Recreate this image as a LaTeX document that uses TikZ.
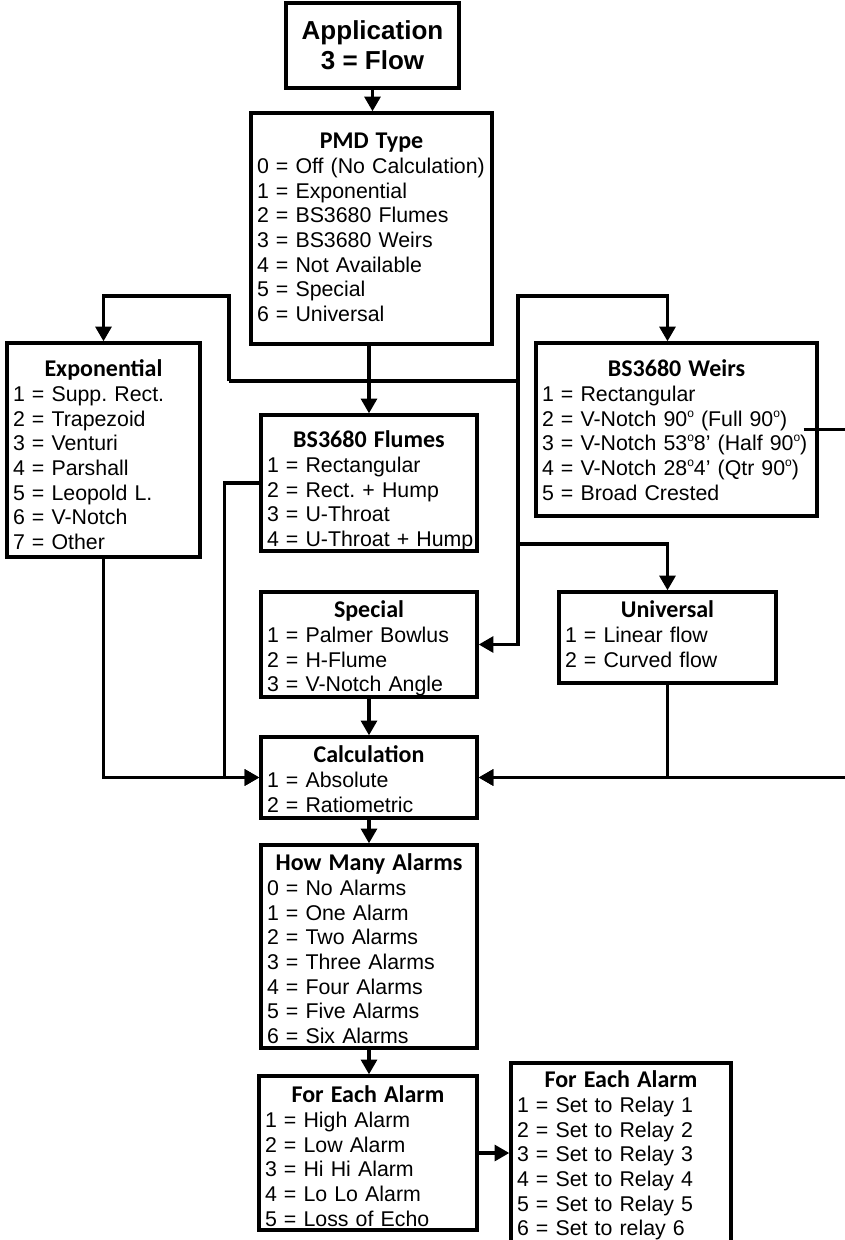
\documentclass[tikz,border=0pt]{standalone}
\usepackage{fontspec}
\setmainfont{Liberation Sans}
\newfontfamily\headfont{Carlito}
\usetikzlibrary{arrows.meta}
\newcommand{\boxhead}[1]{\noindent\hfill{\headfont\bfseries\fontsize{18}{18}\selectfont #1}\hfill\null\\[1pt]}
\newcommand{\menulist}[1]{\begin{tabular}[t]{@{}l@{}}#1\end{tabular}}
\newcommand{\sdeg}{\raisebox{0.42em}{\fontsize{9}{9}\selectfont o}}

\begin{document}
\begin{tikzpicture}[
    x=0.75pt, y=-0.75pt,
    menu/.style={rectangle, draw, line width=2.6pt, align=left, inner xsep=4.5pt, inner ysep=0pt, font=\fontsize{16}{18.4}\selectfont\frenchspacing},
    arrow/.style={-{Triangle[length=11pt,width=12pt]}, line width=2.3pt},
    link/.style={line width=2.3pt}
]
    \useasboundingbox (0,0) rectangle (845,1240);

    % application
    \node[rectangle, draw, line width=2.6pt, align=center, minimum width=129.75pt, minimum height=63.75pt, font=\bfseries\fontsize{19.5}{22.5}\selectfont] (app) at (372.5,45.5) {Application\\3 = Flow};

    % PMD type
    \node[menu, text width=171.75pt, text height=26.25pt, text depth=147pt] (pmd) at (371.5,228.5) {\boxhead{PMD Type}\menulist{0 = Off (No Calculation)\\1 = Exponential\\2 = BS3680 Flumes\\3 = BS3680 Weirs\\4 = Not Available\\5 = Special\\6 = Universal}};

    % the five PMD menus
    \node[menu, text width=135.75pt, text height=24.75pt, text depth=135.75pt] (expo) at (103.5,450) {\boxhead{Exponential}\menulist{1 = Supp. Rect.\\2 = Trapezoid\\3 = Venturi\\4 = Parshall\\5 = Leopold L.\\6 = V-Notch\\7 = Other}};
    \node[menu, text width=201.75pt, text height=24.75pt, text depth=105pt] (weirs) at (676.5,429.5) {\boxhead{BS3680 Weirs}\menulist{1 = Rectangular\\2 = V-Notch 90\sdeg{} (Full 90\sdeg)\\3 = V-Notch 53\sdeg8’ (Half 90\sdeg)\\4 = V-Notch 28\sdeg4’ (Qtr 90\sdeg)\\5 = Broad Crested}};
    \node[menu, text width=153pt, text height=24pt, text depth=78pt] (flumes) at (369,483) {\boxhead{BS3680 Flumes}\menulist{1 = Rectangular\\2 = Rect. + Hump\\3 = U-Throat\\4 = U-Throat + Hump}};
    \node[menu, text width=153pt, text height=18.75pt, text depth=60pt] (special) at (369,644.5) {\boxhead{Special}\menulist{1 = Palmer Bowlus\\2 = H-Flume\\3 = V-Notch Angle}};
    \node[menu, text width=153.75pt, text height=18.75pt, text depth=49.5pt] (univ) at (667.5,637.5) {\boxhead{Universal}\menulist{1 = Linear flow\\2 = Curved flow}};

    % calculation and alarms
    \node[menu, text width=153pt, text height=18.75pt, text depth=42pt] (calc) at (369,777.5) {\boxhead{Calculation}\menulist{1 = Absolute\\2 = Ratiometric}};
    \node[menu, text width=153pt, text height=18.75pt, text depth=133.5pt] (alarms) at (369,946.5) {\boxhead{How Many Alarms}\menulist{0 = No Alarms\\1 = One Alarm\\2 = Two Alarms\\3 = Three Alarms\\4 = Four Alarms\\5 = Five Alarms\\6 = Six Alarms}};
    \node[menu, text width=154.5pt, text height=19.5pt, text depth=96pt] (each) at (368,1153) {\boxhead{For Each Alarm}\menulist{1 = High Alarm\\2 = Low Alarm\\3 = Hi Hi Alarm\\4 = Lo Lo Alarm\\5 = Loss of Echo}};
    \node[menu, text width=156pt, text height=18pt, text depth=122.25pt] (relay) at (621,1156.5) {\boxhead{For Each Alarm}\menulist{1 = Set to Relay 1\\2 = Set to Relay 2\\3 = Set to Relay 3\\4 = Set to Relay 4\\5 = Set to Relay 5\\6 = Set to relay 6}};

    % bus points
    \coordinate (busL) at (229,381);
    \coordinate (busR) at (518,381);
    \coordinate (topL) at (229,296);
    \coordinate (topR) at (518,296);
    \coordinate (tapU) at (518,544);
    \coordinate (rail) at (852,0);

    % arrows
    \draw[arrow] (app.south) -- (app.south |- pmd.north);
    \draw[arrow] (flumes.north |- pmd.south) -- (flumes.north);
    \draw[link] (busL) -- (busR);
    \draw[arrow] (busL) -- (topL) -| (expo.north);
    \draw[arrow] (busR) -- (topR) -| (univ.north |- weirs.north);
    \draw[arrow] (busR) |- (special.east);
    \draw[arrow] (tapU) -| (univ.north);
    \draw[arrow] (expo.south) |- (calc.west);
    \draw[arrow] (flumes.west) -- ++(-35,0) |- (calc.west);
    \draw[arrow] (special.south) -- (calc.north);
    \draw[arrow] (univ.south) |- (calc.east);
    \draw[arrow] ([xshift=-11.25pt]weirs.east) -| (rail |- calc.east) -- (calc.east);
    \draw[arrow] (calc.south) -- (alarms.north);
    \draw[arrow] (alarms.south) -- (alarms.south |- each.north);
    \draw[arrow] (each.east) -- (each.east -| relay.west);
\end{tikzpicture}
\end{document}
